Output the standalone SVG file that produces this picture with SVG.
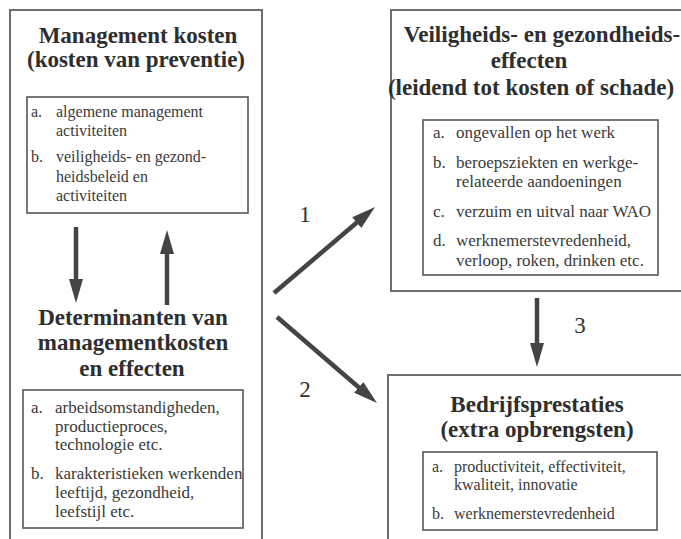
<svg xmlns="http://www.w3.org/2000/svg" width="681" height="539" viewBox="0 0 681 539">
<style>
.outer{fill:none;stroke:#6e6e6e;stroke-width:2}
.inner{fill:none;stroke:#555;stroke-width:1.6}
.title{font-family:"Liberation Serif","Times New Roman",serif;font-weight:bold;font-size:23px;fill:#2e2e2e;text-anchor:middle}
.item{font-family:"Liberation Serif","Times New Roman",serif;font-size:16px;fill:#3a3a3a}
.item17{font-family:"Liberation Serif","Times New Roman",serif;font-size:17px;fill:#3a3a3a}
.num{font-family:"Liberation Serif","Times New Roman",serif;font-size:23px;fill:#333;text-anchor:middle}
.arrow{stroke:#444;stroke-width:4.5;fill:none;marker-end:url(#head)}
</style>
<defs>
<marker id="head" viewBox="0 0 24 14" refX="4" refY="7" markerWidth="24" markerHeight="14" markerUnits="userSpaceOnUse" orient="auto">
<path d="M0,0 L24,7 L0,14 z" fill="#444"/>
</marker>
</defs>
<rect width="681" height="539" fill="#fff"/>

<g id="management-kosten">
<rect class="outer" x="10" y="10" width="252" height="560"/>
<text class="title" x="138" y="43">Management kosten</text>
<text class="title" x="136" y="67">(kosten van preventie)</text>
<rect class="inner" x="27" y="97" width="221" height="116"/>
<g class="item">
<text x="31" y="117">a.</text><text x="56" y="117">algemene management</text>
<text x="56" y="136">activiteiten</text>
<text x="31" y="162">b.</text><text x="56" y="162">veiligheids- en gezond-</text>
<text x="56" y="182">heidsbeleid en</text>
<text x="56" y="201">activiteiten</text>
</g>
</g>

<g id="determinanten">
<text class="title" x="133" y="325">Determinanten van</text>
<text class="title" x="133" y="350">managementkosten</text>
<text class="title" x="132" y="376">en effecten</text>
<rect class="inner" x="23" y="390" width="220" height="138"/>
<g class="item17">
<text x="31" y="413">a.</text><text x="55" y="413">arbeidsomstandigheden,</text>
<text x="55" y="432">productieproces,</text>
<text x="55" y="450">technologie etc.</text>
<text x="31" y="479">b.</text><text x="55" y="479">karakteristieken werkenden</text>
<text x="55" y="498">leeftijd, gezondheid,</text>
<text x="55" y="517">leefstijl etc.</text>
</g>
</g>

<g id="veiligheids-effecten">
<rect class="outer" x="391" y="10" width="310" height="281"/>
<text class="title" x="542" y="42">Veiligheids- en gezondheids-</text>
<text class="title" x="529" y="68">effecten</text>
<text class="title" x="531" y="95">(leidend tot kosten of schade)</text>
<rect class="inner" x="423" y="120" width="235" height="155"/>
<g class="item17">
<text x="433" y="138">a.</text><text x="456" y="138">ongevallen op het werk</text>
<text x="433" y="168">b.</text><text x="456" y="168">beroepsziekten en werkge-</text>
<text x="456" y="187">relateerde aandoeningen</text>
<text x="433" y="217">c.</text><text x="456" y="217">verzuim en uitval naar WAO</text>
<text x="433" y="246">d.</text><text x="456" y="246">werknemerstevredenheid,</text>
<text x="456" y="266">verloop, roken, drinken etc.</text>
</g>
</g>

<g id="bedrijfsprestaties">
<rect class="outer" x="388" y="375" width="320" height="200"/>
<text class="title" x="537" y="412">Bedrijfsprestaties</text>
<text class="title" x="537" y="437">(extra opbrengsten)</text>
<rect class="inner" x="423" y="452" width="234" height="78"/>
<g class="item">
<text x="432" y="472">a.</text><text x="454" y="472">productiviteit, effectiviteit,</text>
<text x="454" y="490">kwaliteit, innovatie</text>
<text x="432" y="519">b.</text><text x="454" y="519">werknemerstevredenheid</text>
</g>
</g>

<g id="connectors">
<line class="arrow" x1="76" y1="227" x2="76" y2="283"/>
<line class="arrow" x1="167" y1="305" x2="167" y2="250"/>
<line class="arrow" x1="274" y1="293" x2="359.8" y2="220"/>
<line class="arrow" x1="277" y1="317" x2="361.8" y2="390"/>
<line class="arrow" x1="537" y1="298" x2="537" y2="347"/>
<text class="num" x="305" y="222">1</text>
<text class="num" x="305" y="397">2</text>
<text class="num" x="580" y="333">3</text>
</g>
</svg>
